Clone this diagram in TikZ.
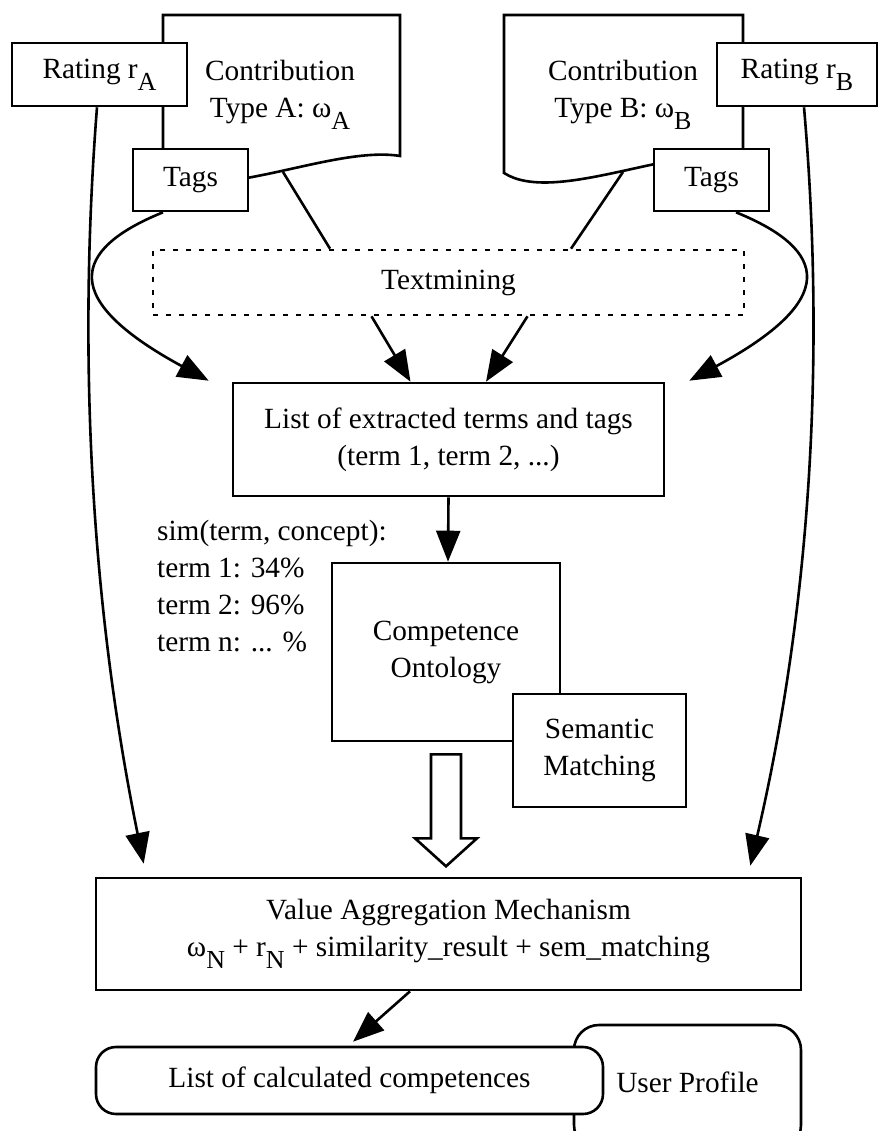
\documentclass[tikz,border=0pt]{standalone}
\usepackage{fontspec}
\setmainfont{Liberation Serif}
\usetikzlibrary{arrows.meta,calc}
\newcommand\lsub[1]{\raisebox{-12pt}{\fontsize{26}{26}\selectfont #1}}
\begin{document}
\begin{tikzpicture}[x=1pt,y=-1pt,
  every node/.style={font=\fontsize{29.3}{37}\selectfont, inner sep=0pt},
  box/.style={draw, line width=2.6pt, fill=white, align=center},
  rbox/.style={box, rounded corners=20pt},
  tmbox/.style={draw, line width=2.6pt, dash pattern=on 5pt off 8pt, align=center},
  ln/.style={line width=2.6pt},
  arr/.style={line width=2.6pt, -{Triangle[length=31pt,width=24pt]}},
  hollow/.style={line width=2.6pt, fill=white, line join=miter},
  doc/.style={line width=2.6pt, fill=white},
]
\useasboundingbox (0,0) rectangle (882,1131);
\fill[white] (0,0) rectangle (882,1131);

% documents
\draw[doc] (163,173) -- (163,15) -- (400,15) -- (400,156)
   .. controls (333,145) and (213,205) .. cycle;
\draw[doc] (504,173) -- (504,15) -- (743,15) -- (743,156)
   .. controls (674,145) and (554,205) .. cycle;
\coordinate (dA) at (283,172);
\coordinate (dB) at (623,172);
\node[align=center] (cA) at (280,95) {Contribution\\Type A: ω\lsub{A}};
\node[align=center] (cB) at (623,95) {Contribution\\Type B: ω\lsub{B}};

% textmining
\node[tmbox, minimum width=591pt, minimum height=65pt] (tm) at (448.5,282.5) {Textmining};
\draw[ln] (dA) -- ([xshift=-118.5pt]tm.north);
\draw[ln] (dB) -- ([xshift=122.5pt]tm.north);

% ratings and tags
\node[box, minimum width=175pt, minimum height=63pt] (ratA) at (99.5,74.5) {Rating r\lsub{A}};
\node[box, minimum width=115pt, minimum height=62pt] (tagA) at (190.5,180) {Tags};
\node[box, minimum width=160pt, minimum height=63pt] (ratB) at (797,74.5) {Rating r\lsub{B}};
\node[box, minimum width=115pt, minimum height=62pt] (tagB) at (711.5,180) {Tags};

% list of extracted terms
\node[box, minimum width=431pt, minimum height=113pt] (list) at (448.5,439.5)
  {List of extracted terms and tags\\(term 1, term 2, ...)};

\draw[arr] ([xshift=-77pt]tm.south) -- ([xshift=-38pt]list.north);
\draw[arr] ([xshift=79pt]tm.south) -- ([xshift=37.5pt]list.north);
\draw[arr] ([xshift=-27.5pt]tagA.south) .. controls (70,250) and (60,300) .. ([xshift=-23pt,yshift=1pt]list.north west);
\draw[arr] ([xshift=24.5pt]tagB.south) .. controls (829,250) and (839,300) .. ([xshift=24pt,yshift=1pt]list.north east);

% competence ontology
\node[box, minimum width=228pt, minimum height=178pt] (comp) at (446,652) {Competence\\Ontology};
\node[box, minimum width=173pt, minimum height=113pt] (sem) at (599.5,750.5) {Semantic\\Matching};
\draw[arr] (list.south) -- ([xshift=2pt]comp.north);

\node[align=left, anchor=west] (sim) at (157,586)
  {sim(term, concept):\\term 1: 34\%\\term 2: 96\%\\term n: ... \%};

% value aggregation
\node[box, minimum width=705pt, minimum height=112pt] (val) at (448.5,934)
  {Value Aggregation Mechanism\\ω\lsub{N} + r\lsub{N} + similarity\_result + sem\_matching};

\draw[hollow] ($(comp.south)+(-15,12)$) -- ($(comp.south)+(-15,96)$) -- ($(comp.south)+(-31,96)$)
  -- ($(comp.south)+(0,124)$) -- ($(comp.south)+(31,96)$) -- ($(comp.south)+(15,96)$)
  -- ($(comp.south)+(15,12)$) -- cycle;

\draw[arr] ([xshift=-2.5pt]ratA.south) .. controls (78,350) and (90,600) .. ([xshift=49pt,yshift=13pt]val.north west);
\draw[arr] ([xshift=7pt]ratB.south) .. controls (825,350) and (812,600) .. ([xshift=-52pt,yshift=11pt]val.north east);

% bottom
\node[rbox, rounded corners=25pt, minimum width=227pt, minimum height=125pt] (up) at (687.5,1087.5) {};
\node (upT) at (687.5,1082) {User Profile};
\node[rbox, minimum width=507pt, minimum height=67pt] (lcc) at (349.5,1080.5) {List of calculated competences};
\draw[arr] ([xshift=-38.5pt]val.south) -- ([xshift=3.5pt,yshift=4pt]lcc.north);
\end{tikzpicture}
\end{document}
